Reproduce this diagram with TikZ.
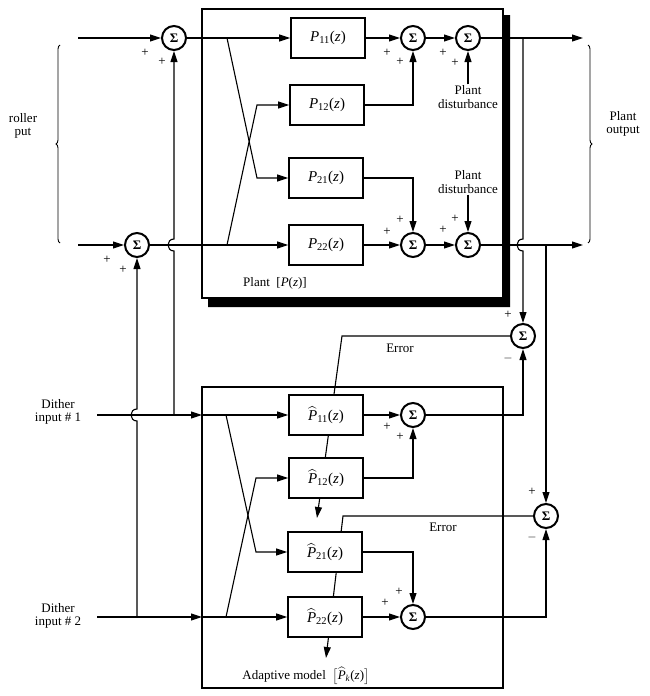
\documentclass[tikz,border=0pt]{standalone}
\usepackage{amsmath}
\usepackage{amssymb}
\usepackage{fontspec}
\setmainfont{Liberation Serif}
\usetikzlibrary{arrows.meta, positioning, decorations.pathreplacing}

\newcommand{\sumsym}{\textbf{Σ}}
\newcommand{\pz}[1]{\textit{P}\textsubscript{#1}(\textit{z})}
\newcommand{\hpz}[1]{$\widehat{\mbox{\textit{P}}}$\textsubscript{#1}(\textit{z})}

\begin{document}
\begin{tikzpicture}[x=1pt, y=-1pt, font=\fontsize{13}{13.5}\selectfont,
        blk/.style={draw, line width=1.8pt, fill=white, minimum width=74pt, minimum height=40pt, inner sep=0pt, font=\fontsize{15}{15}\selectfont},
        sum/.style={circle, draw, line width=2pt, fill=white, minimum size=24pt, inner sep=0pt, font=\fontsize{13}{13}\selectfont},
        sig/.style={line width=1.1pt},
        arr/.style={sig, -{Triangle[length=11pt, width=7pt]}},
        lbl/.style={align=center, inner sep=1pt},
        pm/.style={inner sep=0pt}]
        \useasboundingbox (0, 0) rectangle (650, 696);

        % plant frame and its heavy shadow
        \fill (503, 15) -- (510, 15) -- (510, 307) -- (208, 307) -- (208, 298) -- (503, 298) -- cycle;
        \draw[line width=1.6pt] (202, 9) rectangle (503, 298);
        % adaptive model frame
        \draw[line width=1.6pt] (202, 387) rectangle (503, 688);

        % summing junctions
        \node[sum] at (174, 38) (s1) {\sumsym};
        \node[sum] at (137, 245) (s2) {\sumsym};
        \node[sum] at (413, 38) (sa) {\sumsym};
        \node[sum] at (468, 38) (sb) {\sumsym};
        \node[sum] at (413, 245) (sc) {\sumsym};
        \node[sum] at (468, 245) (sd) {\sumsym};
        \node[sum] at (413, 415) (f1) {\sumsym};
        \node[sum] at (413, 617) (f2) {\sumsym};
        \node[sum] at (523, 336) (e1) {\sumsym};
        \node[sum] at (546, 516) (e2) {\sumsym};

        % error signals run through the model blocks
        \coordinate (k1) at (342, 336);
        \coordinate (a1) at (317, 518);
        \coordinate (k2) at (343, 516);
        \coordinate (a2) at (326, 658);
        \draw[arr] (e1) -- (k1) -- (a1);
        \draw[arr] (e2) -- (k2) -- (a2);

        % plant blocks
        \node[blk] at (328, 38) (p11) {\pz{11}};
        \node[blk] at (327, 105) (p12) {\pz{12}};
        \node[blk] at (326, 178) (p21) {\pz{21}};
        \node[blk] at (326, 245) (p22) {\pz{22}};

        % model blocks
        \node[blk] at (326, 415) (q11) {\hpz{11}};
        \node[blk] at (326, 478) (q12) {\hpz{12}};
        \node[blk] at (325, 552) (q21) {\hpz{21}};
        \node[blk] at (325, 617) (q22) {\hpz{22}};

        % labels
        \node[lbl] at (468, 97) (dist1) {Plant\\disturbance};
        \node[lbl] at (468, 182) (dist2) {Plant\\disturbance};
        \node[lbl] at (623, 124) (pout) {Plant\\output};
        \node[lbl] at (23, 126) (cin) {roller\\put};
        \node[lbl] at (58, 412) (dith1) {Dither\\input \# 1};
        \node[lbl] at (58, 616) (dith2) {Dither\\input \# 2};
        \node[lbl] at (275, 283) (plbl) {Plant\ \ [\textit{P}(\textit{z})]};
        \node[lbl] at (306, 676) (mlbl) {Adaptive model\ \ $\bigl[$\hpz{\textit{k}}$\bigr]$};
        \node[lbl] at (400, 348) (err1) {Error};
        \node[lbl] at (443, 527) (err2) {Error};

        % signs at the junctions
        \foreach \x/\y [count=\i] in {145/53, 162/62, 107/260, 123/270, 387/53, 400/62,
                443/53, 455/63, 387/232, 400/220, 443/230, 455/219,
                387/427, 400/437, 385/603, 399/592, 508/315, 532/492}
            \node[pm] at (\x, \y) (plus\i) {+};
        \node[pm] at (508, 358) (minus1) {$-$};
        \node[pm] at (532, 537) (minus2) {$-$};

        % wiring points
        \coordinate (in1) at (78, 38);
        \coordinate (in2) at (78, 245);
        \coordinate (j1) at (227, 38);
        \coordinate (c1) at (257, 178);
        \coordinate (j2) at (227, 245);
        \coordinate (c2) at (257, 105);
        \coordinate (o1) at (583, 38);
        \coordinate (o2) at (583, 245);
        \coordinate (t1) at (523, 38);
        \coordinate (t2) at (546, 245);
        \coordinate (d1) at (97, 415);
        \coordinate (d2) at (97, 617);
        \coordinate (m1) at (202, 415);
        \coordinate (m2) at (202, 617);
        \coordinate (h1) at (226, 415);
        \coordinate (g1) at (256, 552);
        \coordinate (h2) at (226, 617);
        \coordinate (g2) at (256, 478);
        \coordinate (v1) at (174, 415);
        \coordinate (v2) at (137, 617);

        % plant signal flow
        \draw[arr] (in1) -- (s1);
        \draw[arr] (in2) -- (s2);
        \draw[arr] (s1) -- (p11);
        \draw[arr] (s2) -- (p22);
        \draw[arr] (j1) -- (c1) -- (p21);
        \draw[arr] (j2) -- (c2) -- (p12);
        \draw[arr] (p11) -- (sa);
        \draw[arr] (p12) -| (sa);
        \draw[arr] (p21) -| (sc);
        \draw[arr] (p22) -- (sc);
        \draw[arr] (sa) -- (sb);
        \draw[arr] (sc) -- (sd);
        \draw[arr] (dist1) -- (sb);
        \draw[arr] (dist2) -- (sd);
        \draw[arr] (sb) -- (o1);
        \draw[arr] (sd) -- (o2);

        % plant outputs down to the error junctions
        \draw[arr] (t1) -- (523, 239) .. controls (515, 239) and (515, 251) .. (523, 251) -- (e1);
        \draw[arr] (t2) -- (e2);

        % model signal flow
        \draw[arr] (d1) -- (m1);
        \draw[arr] (m1) -- (q11);
        \draw[arr] (d2) -- (m2);
        \draw[arr] (m2) -- (q22);
        \draw[arr] (h1) -- (g1) -- (q21);
        \draw[arr] (h2) -- (g2) -- (q12);
        \draw[arr] (q11) -- (f1);
        \draw[arr] (q12) -| (f1);
        \draw[arr] (q21) -| (f2);
        \draw[arr] (q22) -- (f2);
        \draw[arr] (f1) -| (e1);
        \draw[arr] (f2) -| (e2);

        % dither added to the controller input
        \draw[arr] (v1) -- (174, 251) .. controls (166, 251) and (166, 239) .. (174, 239) -- (s1);
        \draw[arr] (v2) -- (137, 421) .. controls (129, 421) and (129, 409) .. (137, 409) -- (s2);

        % braces
        \draw[line width=0.9pt, decorate, decoration={brace, amplitude=4pt}] (60, 243) -- (60, 45);
        \draw[line width=0.9pt, decorate, decoration={brace, amplitude=4pt}] (588, 45) -- (588, 243);
    \end{tikzpicture}
\end{document}
